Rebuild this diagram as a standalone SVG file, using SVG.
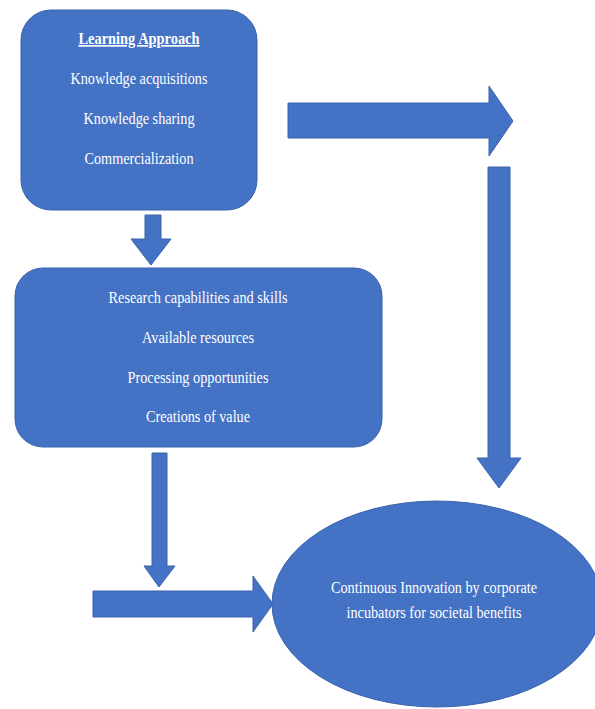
<svg xmlns="http://www.w3.org/2000/svg" width="595" height="709" viewBox="0 0 595 709">
  <style>
    .shape { fill: #4472C4; stroke: #3A62AB; stroke-width: 1; }
    .lbl { fill: #ffffff; font-family: "Liberation Serif", "Times New Roman", serif; font-size: 17px; text-anchor: middle; }
    .title { font-weight: bold; text-decoration: underline; }
  </style>
  <rect width="595" height="709" fill="#ffffff"/>

  <g id="connectors">
    <!-- top box down to middle box -->
    <polygon class="shape" points="145,215 161,215 161,239 171,239 151,265 131,239 145,239"/>
    <!-- top box right arrow -->
    <polygon class="shape" points="288,103 489,103 489,86 513,121 489,156 489,138 288,138"/>
    <!-- long vertical arrow down to ellipse -->
    <polygon class="shape" points="488,167 510,167 510,458 521,458 499,488 477,458 488,458"/>
    <!-- middle box down arrow -->
    <polygon class="shape" points="152,453 167,453 167,566 175,566 159,587 144,566 152,566"/>
    <!-- bottom right arrow into ellipse -->
    <polygon class="shape" points="93,591 253,591 253,576 273,604 253,632 253,617 93,617"/>
  </g>

  <g id="learning-approach">
    <rect class="shape" x="21" y="10" width="236" height="200" rx="30" ry="30"/>
    <text class="lbl title" x="139" y="44" textLength="121" lengthAdjust="spacingAndGlyphs">Learning Approach</text>
    <text class="lbl" x="139" y="84" textLength="137" lengthAdjust="spacingAndGlyphs">Knowledge acquisitions</text>
    <text class="lbl" x="139" y="124" textLength="111" lengthAdjust="spacingAndGlyphs">Knowledge sharing</text>
    <text class="lbl" x="139" y="164" textLength="109" lengthAdjust="spacingAndGlyphs">Commercialization</text>
  </g>

  <g id="capabilities">
    <rect class="shape" x="15" y="268" width="367" height="179" rx="28" ry="28"/>
    <text class="lbl" x="198" y="303" textLength="179" lengthAdjust="spacingAndGlyphs">Research capabilities and skills</text>
    <text class="lbl" x="198" y="343" textLength="112" lengthAdjust="spacingAndGlyphs">Available resources</text>
    <text class="lbl" x="198" y="383" textLength="141" lengthAdjust="spacingAndGlyphs">Processing opportunities</text>
    <text class="lbl" x="198" y="422" textLength="104" lengthAdjust="spacingAndGlyphs">Creations of value</text>
  </g>

  <g id="continuous-innovation">
    <ellipse class="shape" cx="437" cy="604" rx="165" ry="103"/>
    <text class="lbl" x="434" y="593" textLength="206" lengthAdjust="spacingAndGlyphs">Continuous Innovation by corporate</text>
    <text class="lbl" x="434" y="618" textLength="175" lengthAdjust="spacingAndGlyphs">incubators for societal benefits</text>
  </g>
</svg>
